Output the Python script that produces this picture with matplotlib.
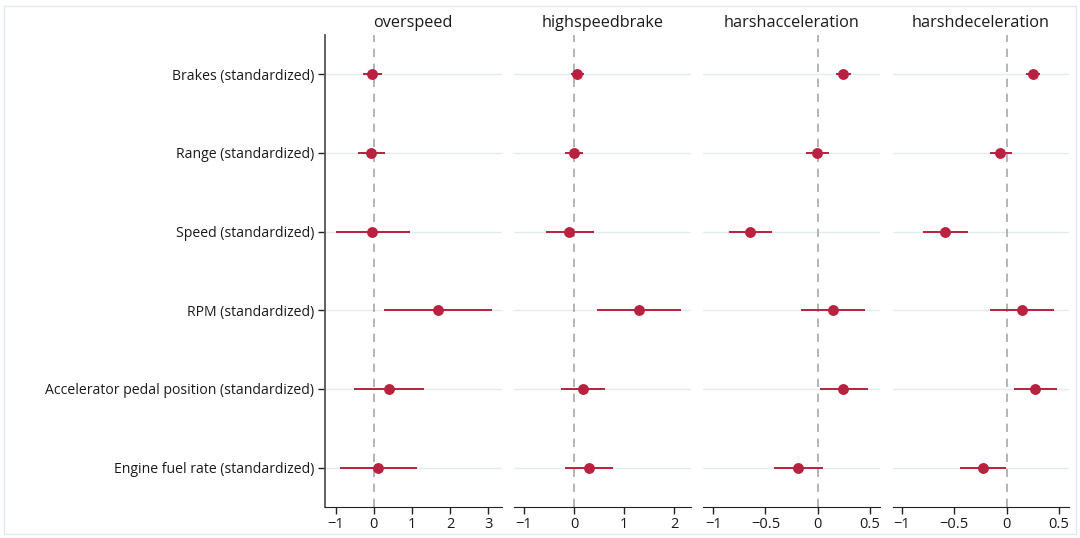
import numpy as np
import matplotlib.pyplot as plt
from matplotlib.patches import Rectangle

plt.rcParams['font.family'] = ['Open Sans', 'DejaVu Sans']

# coefficient plot data
variables = ['Brakes (standardized)', 'Range (standardized)', 'Speed (standardized)',
             'RPM (standardized)', 'Accelerator pedal position (standardized)',
             'Engine fuel rate (standardized)']
outcomes = ['overspeed', 'highspeedbrake', 'harshacceleration', 'harshdeceleration']

overspeed_est = [-0.04, -0.07, -0.04, 1.68, 0.39, 0.115]
overspeed_lo = [-0.29, -0.41, -1.00, 0.28, -0.53, -0.89]
overspeed_hi = [0.22, 0.29, 0.94, 3.10, 1.33, 1.13]

highspeedbrake_est = [0.05, -0.01, -0.10, 1.29, 0.18, 0.29]
highspeedbrake_lo = [-0.07, -0.19, -0.57, 0.45, -0.26, -0.19]
highspeedbrake_hi = [0.19, 0.18, 0.40, 2.13, 0.61, 0.78]

harshacc_est = [0.247, -0.006, -0.647, 0.144, 0.247, -0.19]
harshacc_lo = [0.18, -0.115, -0.85, -0.163, 0.02, -0.42]
harshacc_hi = [0.32, 0.11, -0.44, 0.456, 0.48, 0.05]

harshdec_est = [0.257, -0.058, -0.587, 0.144, 0.273, -0.227]
harshdec_lo = [0.19, -0.16, -0.80, -0.154, 0.067, -0.445]
harshdec_hi = [0.32, 0.048, -0.365, 0.45, 0.48, -0.006]

estimates = [overspeed_est, highspeedbrake_est, harshacc_est, harshdec_est]
lows = [overspeed_lo, highspeedbrake_lo, harshacc_lo, harshdec_lo]
highs = [overspeed_hi, highspeedbrake_hi, harshacc_hi, harshdec_hi]

xticks = [[-1, 0, 1, 2, 3], [-1, 0, 1, 2], [-1, -0.5, 0, 0.5], [-1, -0.5, 0, 0.5]]
xticklabels = [['\u22121', '0', '1', '2', '3'], ['\u22121', '0', '1', '2'],
               ['\u22121', '\u22120.5', '0', '0.5'], ['\u22121', '\u22120.5', '0', '0.5']]
xlims = [(-1.28, 3.35), (-1.2, 2.33), (-1.096, 0.596), (-1.09, 0.6)]

W, H = 1080, 538
fig = plt.figure(figsize=(10.8, 5.38), dpi=100)
fig.patches.append(Rectangle((4 / W, 4 / H), 1072 / W, 528 / H, transform=fig.transFigure,
                             fill=False, edgecolor='#dde9ec', linewidth=1.0))

lefts = [325, 514, 703.3, 892.7]
width = 176.5
bottom = 1 - 507 / H
top = 1 - 35 / H

red = '#b8213f'
ypos = np.arange(1, len(variables) + 1)

for i, name in enumerate(outcomes):
    ax = fig.add_axes([lefts[i] / W, bottom, width / W, top - bottom])
    for y in ypos:
        ax.axhline(y, color='#e2ecec', lw=1.0, zorder=0)
    ax.axvline(0, color='#a8a8a8', lw=1.2, ls=(0, (5, 4)), zorder=1)
    ax.hlines(ypos, lows[i], highs[i], color=red, lw=1.4, zorder=2)
    ax.plot(estimates[i], ypos, 'o', color=red, ms=6.8, zorder=3)
    ax.set_xlim(*xlims[i])
    ax.set_ylim(6.5, 0.5)
    ax.set_xticks(xticks[i])
    ax.set_xticklabels(xticklabels[i], fontsize=10.5)
    ax.set_title(name, fontsize=11.7, pad=6, color='#1a1a1a')
    for s in ['top', 'right']:
        ax.spines[s].set_visible(False)
    ax.spines['bottom'].set_color('#222222')
    ax.tick_params(axis='x', length=5, width=1, color='#222222', pad=2, labelcolor='#1a1a1a')
    if i == 0:
        ax.spines['left'].set_color('#555555')
        ax.spines['left'].set_linewidth(1.3)
        ax.set_yticks(ypos)
        ax.set_yticklabels(variables, fontsize=10.1, color='#1a1a1a')
        ax.tick_params(axis='y', length=5, width=1, color='#222222', pad=3)
    else:
        ax.spines['left'].set_visible(False)
        ax.set_yticks([])

fig.savefig('out.png', dpi=100)
